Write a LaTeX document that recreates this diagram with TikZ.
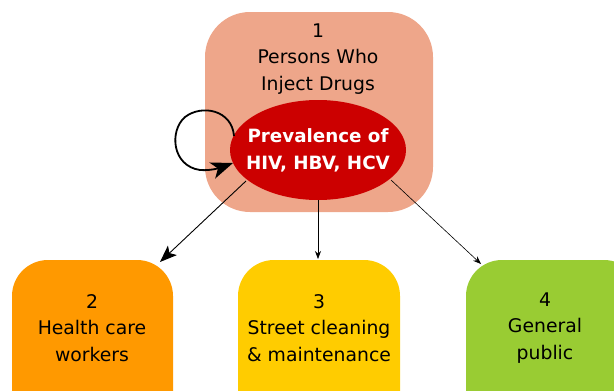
\documentclass[tikz,border=0pt]{standalone}
\usepackage{fontspec}
\setmainfont{DejaVu Sans}
\usetikzlibrary{arrows.meta,shapes.geometric}
\definecolor{salmon}{RGB}{238,166,138}
\definecolor{redc}{RGB}{204,0,0}
\definecolor{orangec}{RGB}{255,153,0}
\definecolor{yellowc}{RGB}{255,204,0}
\definecolor{greenc}{RGB}{153,204,51}
\begin{document}
\begin{tikzpicture}[x=1pt,y=-1pt,
  lbl/.style={align=center,font=\fontsize{18.8}{26.5}\selectfont,text=black,inner sep=0pt},
  conn/.style={draw=black,line width=0.9pt}]
\useasboundingbox (0,0) rectangle (614,391);
% top box
\fill[salmon,rounded corners=45pt] (205,12) rectangle (433,212);
\node[lbl] (toplbl) at (318,59) {1\\Persons Who\\Inject Drugs};
% ellipse
\node[ellipse,fill=redc,minimum width=176pt,minimum height=100pt,inner sep=0pt] (prev) at (318,150) {};
\node[align=center,text=white,font=\fontsize{18.3}{27}\selectfont\bfseries,inner sep=0pt] (prevlbl) at (318,150.5) {Prevalence of\\HIV, HBV, HCV};
% bottom boxes
\fill[orangec,rounded corners=36pt] (12,260) rectangle (173,430);
\node[lbl] (b2) at (92,328) {2\\Health care\\workers};
\fill[yellowc,rounded corners=36pt] (238,260) rectangle (400,430);
\node[lbl] (b3) at (319,328) {3\\Street cleaning\\\& maintenance};
\fill[greenc,rounded corners=36pt] (466,260) rectangle (640,430);
\node[lbl] (b4) at (545,328) {4\\General\\public};
\coordinate (s2) at (246,181);
\coordinate (s4) at (391,180);
\coordinate (t2) at (160,262);
\coordinate (t3) at (318,259);
\coordinate (t4) at (481,264);
\coordinate (l1) at (234,136);
\coordinate (l2) at (233,163);
% connectors
\draw[conn,-{Stealth[length=17pt,width=13pt,inset=4pt]}] (s2) -- (t2);
\draw[conn,line width=0.7pt,-{Stealth[length=8pt,width=6pt]}] (prev.south) -- (t3);
\draw[conn,line width=0.6pt,-{Stealth[length=8pt,width=6pt]}] (s4) -- (t4);
% self loop
\draw[line width=1.8pt,-{Stealth[length=22pt,width=17pt,inset=6pt]}] (l1)
  .. controls (232,110) and (202,104) .. (185,117)
  .. controls (169,131) and (172,166) .. (200,170)
  .. controls (212,171) and (222,167) .. (l2);
\end{tikzpicture}
\end{document}
